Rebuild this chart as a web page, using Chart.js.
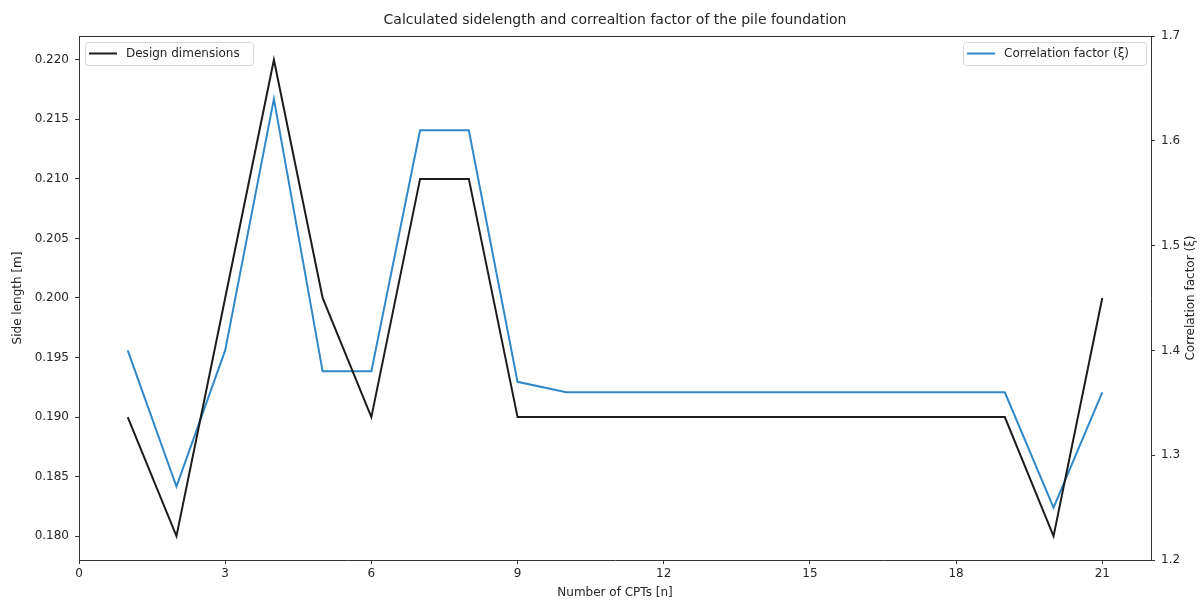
<!DOCTYPE html>
<html>
<head>
<meta charset="utf-8">
<script src="https://cdn.jsdelivr.net/npm/chart.js@4.4.1/dist/chart.umd.min.js"></script>
<style>
  html, body { margin: 0; padding: 0; background: #ffffff; }
  #wrap { width: 1201px; height: 600px; position: relative; }
</style>
</head>
<body>
<div id="wrap"><canvas id="c" width="1201" height="600"></canvas></div>
<script>
const nCPTs = [1,2,3,4,5,6,7,8,9,10,11,12,13,14,15,16,17,18,19,20,21];
const sideLength = [0.190,0.180,0.200,0.220,0.200,0.190,0.210,0.210,0.190,0.190,0.190,0.190,0.190,0.190,0.190,0.190,0.190,0.190,0.190,0.180,0.200];
const correlationFactor = [1.40,1.27,1.40,1.64,1.38,1.38,1.61,1.61,1.37,1.36,1.36,1.36,1.36,1.36,1.36,1.36,1.36,1.36,1.36,1.25,1.36];
const xTicks = [0,3,6,9,12,15,18,21];
const yLeftTicks = [0.180,0.185,0.190,0.195,0.200,0.205,0.210,0.215,0.220];
const yRightTicks = [1.2,1.3,1.4,1.5,1.6,1.7];

const titleText = 'Calculated sidelength and correaltion factor of the pile foundation';
const rightTitle = 'Correlation factor (ξ)';
const FONT = "'DejaVu Sans', sans-serif";
const TXT = '#262626';
const BLACK = '#1c1c1c';
const BLUE = '#3188c8';

const framePlugin = {
  id: 'frame',
  afterDraw(chart) {
    const {ctx, chartArea: a} = chart;
    ctx.save();
    ctx.strokeStyle = '#333';
    ctx.lineWidth = 1;
    ctx.beginPath();
    ctx.moveTo(a.left, a.top + 0.5);
    ctx.lineTo(a.right, a.top + 0.5);
    ctx.stroke();
    // title
    ctx.fillStyle = TXT;
    ctx.font = '14px ' + FONT;
    ctx.textAlign = 'center';
    ctx.textBaseline = 'middle';
    ctx.fillText(titleText, (a.left + a.right) / 2, 20);
    // right axis title (reads bottom-to-top)
    ctx.save();
    ctx.font = '12px ' + FONT;
    ctx.translate(1191, (a.top + a.bottom) / 2);
    ctx.rotate(-Math.PI / 2);
    ctx.fillText(rightTitle, 0, 0);
    ctx.restore();
    // legends
    const drawLegend = (x, w, label, color) => {
      const y = a.top + 6, h = 23;
      ctx.beginPath();
      if (ctx.roundRect) ctx.roundRect(x + 0.5, y + 0.5, w, h, 3); else ctx.rect(x + 0.5, y + 0.5, w, h);
      ctx.fillStyle = 'rgba(255,255,255,0.85)';
      ctx.fill();
      ctx.strokeStyle = '#d6d6d6';
      ctx.stroke();
      ctx.strokeStyle = color;
      ctx.lineWidth = 2;
      ctx.beginPath();
      ctx.moveTo(x + 4, y + h / 2);
      ctx.lineTo(x + 32, y + h / 2);
      ctx.stroke();
      ctx.lineWidth = 1;
      ctx.fillStyle = TXT;
      ctx.font = '12px ' + FONT;
      ctx.textAlign = 'left';
      ctx.fillText(label, x + 41, y + h / 2 + 0.5);
    };
    drawLegend(a.left + 6, 168, chart.data.datasets[0].label, BLACK);
    drawLegend(a.right - 188, 183, chart.data.datasets[1].label, BLUE);
    ctx.restore();
  }
};

const tickFont = { family: FONT, size: 12 };
const gridCommon = { drawOnChartArea: false, drawTicks: true, tickLength: 4, color: '#333', tickColor: '#333' };

new Chart(document.getElementById('c'), {
  type: 'line',
  data: {
    datasets: [
      {
        label: 'Design dimensions',
        data: nCPTs.map((x, i) => ({ x, y: sideLength[i] })),
        borderColor: BLACK,
        borderWidth: 2,
        pointRadius: 0,
        tension: 0,
        yAxisID: 'y'
      },
      {
        label: 'Correlation factor (ξ)',
        data: nCPTs.map((x, i) => ({ x, y: correlationFactor[i] })),
        borderColor: BLUE,
        borderWidth: 2,
        pointRadius: 0,
        tension: 0,
        yAxisID: 'y1'
      }
    ]
  },
  options: {
    responsive: false,
    animation: false,
    devicePixelRatio: 1,
    layout: { padding: { top: 36, left: 0, right: 0, bottom: 0 } },
    plugins: { legend: { display: false }, title: { display: false }, tooltip: { enabled: false } },
    scales: {
      x: {
        type: 'linear',
        min: 0, max: 22,
        afterBuildTicks: s => { s.ticks = xTicks.map(v => ({ value: v })); },
        afterFit: s => { s.height = 40; },
        grid: gridCommon,
        border: { display: true, color: '#333', width: 1 },
        ticks: { font: tickFont, color: TXT, padding: 3, maxRotation: 0, autoSkip: false },
        title: { display: true, text: 'Number of CPTs [n]', font: tickFont, color: TXT, padding: { top: 1, bottom: 0 } }
      },
      y: {
        type: 'linear',
        position: 'left',
        min: 0.178, max: 0.222,
        afterBuildTicks: s => { s.ticks = yLeftTicks.map(v => ({ value: v })); },
        afterFit: s => { s.width = 79; },
        grid: gridCommon,
        border: { display: true, color: '#333', width: 1 },
        ticks: { font: tickFont, color: TXT, padding: 6, autoSkip: false, callback: v => v.toFixed(3) },
        title: { display: true, text: 'Side length [m]', font: tickFont, color: TXT, padding: { top: 11, bottom: 0 } }
      },
      y1: {
        type: 'linear',
        position: 'right',
        min: 1.2, max: 1.7,
        afterBuildTicks: s => { s.ticks = yRightTicks.map(v => ({ value: v })); },
        afterFit: s => { s.width = 50; },
        grid: gridCommon,
        border: { display: true, color: '#333', width: 1 },
        ticks: { font: tickFont, color: TXT, padding: 6, autoSkip: false, callback: v => v.toFixed(1) },
        title: { display: false }
      }
    }
  },
  plugins: [framePlugin]
});
</script>
</body>
</html>
